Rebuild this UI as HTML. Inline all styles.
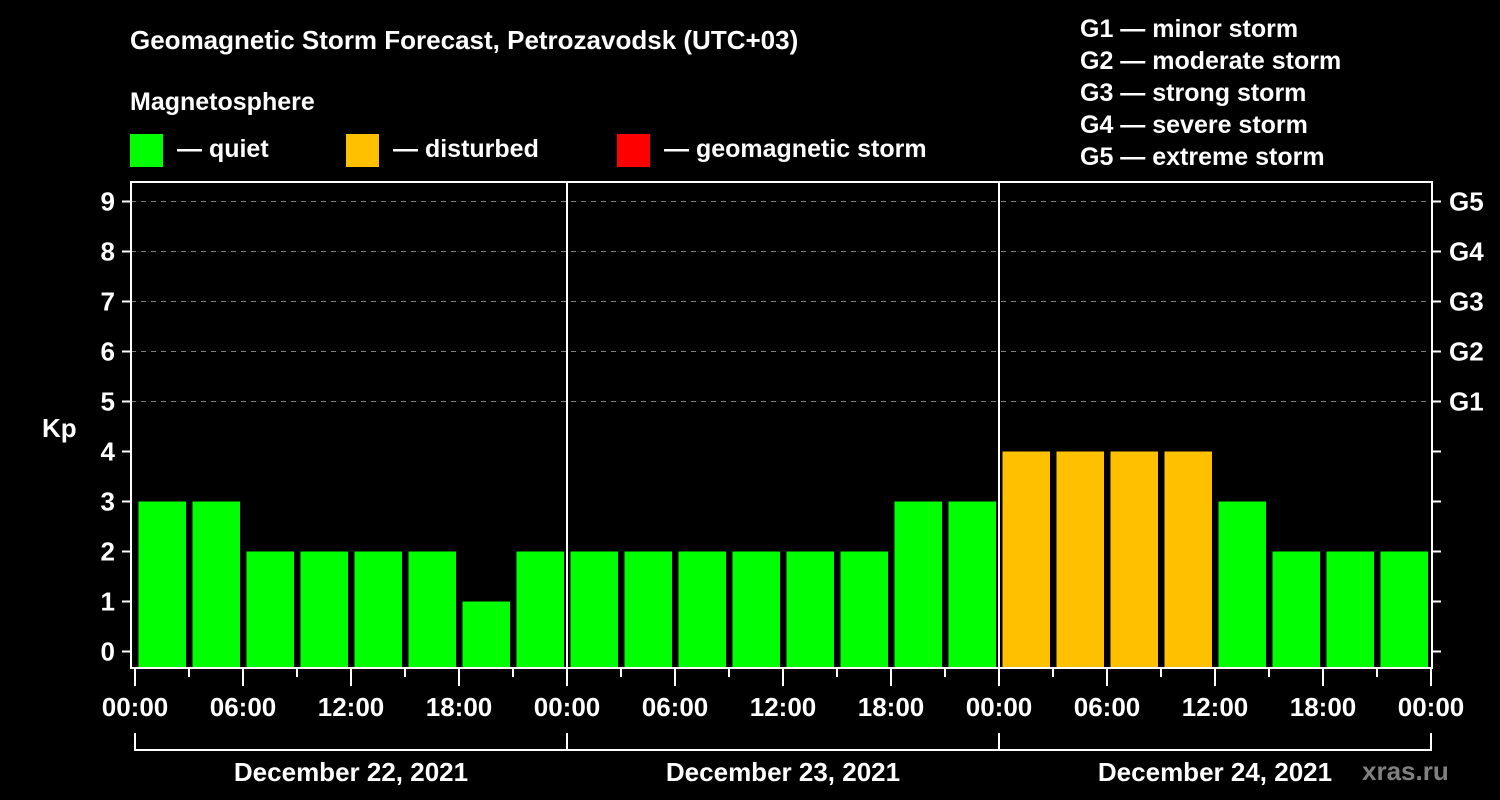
<!DOCTYPE html>
<html><head><meta charset="utf-8"><style>
html,body{margin:0;padding:0;background:#000;width:1500px;height:800px;overflow:hidden}
svg{display:block}
text{font-family:"Liberation Sans",Arial,sans-serif;font-weight:bold;fill:#fff}
</style></head><body>
<svg id="chart" width="1500" height="800" viewBox="0 0 1500 800">
<text x="130" y="49" font-size="26">Geomagnetic Storm Forecast, Petrozavodsk (UTC+03)</text>
<text x="130" y="110" font-size="25">Magnetosphere</text>
<g>
<rect x="130" y="134" width="33" height="33" fill="#00ff00"/>
<text x="177" y="157" font-size="25">— quiet</text>
<rect x="346" y="134" width="33" height="33" fill="#ffc000"/>
<text x="393" y="157" font-size="25">— disturbed</text>
<rect x="617" y="134" width="33" height="33" fill="#ff0000"/>
<text x="664" y="157" font-size="25">— geomagnetic storm</text>
</g>
<g font-size="25">
<text x="1080" y="37" font-size="25">G1 — minor storm</text>
<text x="1080" y="69" font-size="25">G2 — moderate storm</text>
<text x="1080" y="101" font-size="25">G3 — strong storm</text>
<text x="1080" y="133" font-size="25">G4 — severe storm</text>
<text x="1080" y="165" font-size="25">G5 — extreme storm</text>
</g>
<text x="42" y="437" font-size="26">Kp</text>
<text x="1362" y="780" font-size="26" fill="#808080" style="fill:#808080">xras.ru</text>
<g id="plot"></g>
</svg>
<script>
const kpValues = [3,3,2,2,2,2,1,2, 2,2,2,2,2,2,3,3, 4,4,4,4,3,2,2,2];
const dayLabels = ["December 22, 2021","December 23, 2021","December 24, 2021"];
const hourLabels = ["00:00","06:00","12:00","18:00"];
const yTicks = [0,1,2,3,4,5,6,7,8,9];
const gLabels = ["G1","G2","G3","G4","G5"];
const gLevels = [5,6,7,8,9];

const NS = "http://www.w3.org/2000/svg";
const plot = document.getElementById("plot");
const X0 = 135, PXH = 18, Y0 = 651.5, PXU = 50;
const PL = 131, PR = 1432, PT = 182, PB = 668;
const xh = h => X0 + h * PXH;
const yv = v => Y0 - v * PXU;
function mk(tag, attrs, parent) {
  const e = document.createElementNS(NS, tag);
  for (const k in attrs) e.setAttribute(k, attrs[k]);
  (parent || plot).appendChild(e);
  return e;
}
// grid lines
gLevels.forEach(v => {
  const l = mk("line", {x1: PL, x2: PR, y1: yv(v), y2: yv(v), stroke: "#808080", "stroke-width": 1, "stroke-dasharray": "5,5"});
  
  
});
// bars
kpValues.forEach((v, i) => {
  const color = v >= 5 ? "#ff0000" : (v >= 4 ? "#ffc000" : "#00ff00");
  const r = mk("rect", {x: xh(i * 3) + 3.5, y: yv(v), width: 47.5, height: PB - yv(v), fill: color});
  
  
});
// day separators
for (let d = 1; d < dayLabels.length; d++) {
  const l = mk("line", {x1: xh(d * 24), x2: xh(d * 24), y1: PT, y2: PB, stroke: "#fff", "stroke-width": 2});
  
  
}
// frame
const fr = mk("rect", {x: PL, y: PT, width: PR - PL, height: PB - PT, fill: "none", stroke: "#fff", "stroke-width": 2});


// y ticks & labels
yTicks.forEach(v => {
  const t = mk("line", {x1: 122, x2: PL, y1: yv(v), y2: yv(v), stroke: "#fff", "stroke-width": 2});
  
  
  const t2 = mk("line", {x1: PR, x2: 1441, y1: yv(v), y2: yv(v), stroke: "#fff", "stroke-width": 2});
  
  
  const lb = mk("text", {x: 115, y: yv(v) + 9, "font-size": 26, "text-anchor": "end"});
  lb.textContent = v;
  
  
});
gLabels.forEach((g, i) => {
  const lb = mk("text", {x: 1449, y: yv(gLevels[i]) + 9, "font-size": 26});
  lb.textContent = g;
  
  
});
// x ticks
const total = dayLabels.length * 24;
for (let h = 0; h <= total; h += 3) {
  const major = h % 6 === 0;
  const t = mk("line", {x1: xh(h), x2: xh(h), y1: PB, y2: major ? 686 : 677, stroke: "#fff", "stroke-width": 2});
  
  
  if (major) {
    const lb = mk("text", {x: xh(h), y: 716, "font-size": 26, "text-anchor": "middle"});
    lb.textContent = hourLabels[(h / 6) % hourLabels.length];
    
    
  }
}
// day brackets
const br = mk("path", {d: `M${xh(0)},733 V750 H${xh(total)} V733`, fill: "none", stroke: "#fff", "stroke-width": 2});


dayLabels.forEach((d, i) => {
  if (i > 0) {
    const l = mk("line", {x1: xh(i * 24), x2: xh(i * 24), y1: 733, y2: 750, stroke: "#fff", "stroke-width": 2});
    
    
  }
  const lb = mk("text", {x: xh(i * 24 + 12), y: 781, "font-size": 26, "text-anchor": "middle"});
  lb.textContent = d;
  
  
});
</script>
</body></html>
